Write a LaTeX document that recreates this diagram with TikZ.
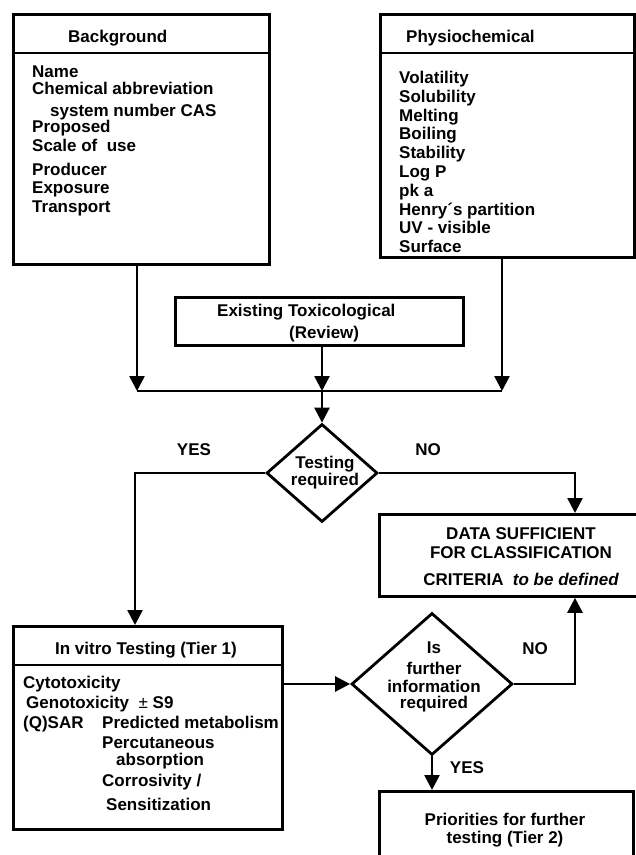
\documentclass[tikz,border=0pt]{standalone}
\usepackage{fontspec}
\setmainfont{Liberation Sans}
\usetikzlibrary{shapes.geometric,arrows.meta}

\tikzset{
  box/.style={draw, rectangle, line width=2.8pt, anchor=north west, inner sep=0pt},
  cond/.style={draw, diamond, line width=2.8pt, inner sep=0pt},
  txt/.style={inner sep=0pt, font=\fontsize{17}{18.8}\selectfont\bfseries},
  link/.style={line width=2.6pt},
  arr/.style={line width=2.6pt, -{Triangle[width=15pt,length=15pt]}},
}

\begin{document}
\begin{tikzpicture}[x=1pt,y=-1pt]
  \useasboundingbox (0,0) rectangle (636,855);
  \clip (0,0) rectangle (636,855);

  \node[box, minimum width=256pt, minimum height=250pt] (bg) at (12,13) {};
  \node[box, minimum width=254pt, minimum height=243pt] (ph) at (379,13) {};
  \node[box, minimum width=288pt, minimum height=48pt] (ex) at (174,296) {};
  \node[box, minimum width=290pt, minimum height=82pt] (ds) at (378,513) {};
  \node[box, minimum width=269pt, minimum height=203pt] (vt) at (12,625) {};
  \node[box, minimum width=254pt, minimum height=100pt] (pr) at (378,790) {};
  \node[cond, minimum width=111pt, minimum height=98pt] (t1) at (322,473) {};
  \node[cond, minimum width=161pt, minimum height=142pt] (t2) at (432,684) {};

  \draw[link] ([yshift=-40pt]bg.north west) -- ([yshift=-40pt]bg.north east);
  \draw[link] ([yshift=-40pt]ph.north west) -- ([yshift=-40pt]ph.north east);
  \draw[link] ([yshift=-40pt]vt.north west) -- ([yshift=-40pt]vt.north east);

  \node[txt, anchor=base west] (bgh) at (68,42) {Background};
  \node[txt, anchor=north west, align=left] (bgl) at (32,66)
    {Name\\[-1.8pt] Chemical abbreviation\\[3.2pt] \hspace*{18pt}system number CAS\\[-2.8pt]
     Proposed\\[0.2pt] Scale of \ use\\[5.2pt] Producer\\[-0.8pt] Exposure\\[0.2pt] Transport};
  \node[txt, anchor=base west] (phh) at (406,42) {Physiochemical};
  \node[txt, anchor=north west, align=left] (phl) at (399,71)
    {Volatility\\ Solubility\\ Melting\\ Boiling\\ Stability\\ Log P\\ pk a\\
     Henry´s partition\\ UV - visible\\ Surface};
  \node[txt, anchor=north west, align=left] (ext) at (217,304)
    {Existing Toxicological\\[3.2pt] \hspace*{72pt}(Review)};
  \node[txt, anchor=north, align=center] (t1t) at (325,456) {Testing\\[-1.8pt] required};
  \node[txt, anchor=north, align=center] (dst) at (521,527)
    {DATA SUFFICIENT\\[0.2pt] FOR CLASSIFICATION\\[9pt] CRITERIA \ {\itshape to be defined}};
  \node[txt, anchor=base] (vth) at (146,654) {In vitro Testing (Tier 1)};
  \node[txt, anchor=north west, align=left] (vtl) at (23,676)
    {Cytotoxicity\\[1.2pt] \hspace*{3pt}Genotoxicity \ {\mdseries ±} S9\\[1.2pt]
     \makebox[79pt][l]{(Q)SAR}Predicted metabolism\\[1.2pt]
     \hspace*{79pt}Percutaneous\\[-2.2pt] \hspace*{93pt}absorption\\[2.6pt]
     \hspace*{79pt}Corrosivity /\\[5.2pt] \hspace*{83pt}Sensitization};
  \node[txt, anchor=north, align=center] (t2t) at (434,642)
    {Is\\[2.2pt] further\\[-0.8pt] information\\[-2.8pt] required};
  \node[txt, anchor=north, align=center] (prt) at (505,813)
    {Priorities for further\\[-0.8pt] testing (Tier 2)};

  \node[txt, anchor=base] (yes1) at (194,455) {YES};
  \node[txt, anchor=base] (no1) at (428,455) {NO};
  \node[txt, anchor=base] (no2) at (535,654) {NO};
  \node[txt, anchor=base] (yes2) at (467,773) {YES};

  \coordinate (mL) at (137,391);
  \coordinate (mC) at (322,391);
  \coordinate (mR) at (502,391);
  \coordinate (yx) at (135,473);
  \coordinate (nx) at (575,473);

  \draw[arr] (bg.south -| mL) -- (mL);
  \draw[arr] (ph.south -| mR) -- (mR);
  \draw[arr] (ex.south -| mC) -- (mC);
  \draw[link] (mL) -- (mR);
  \draw[arr] (mC) -- (t1.north);
  \draw[arr] (t1.west) -- (yx) -- (vt.north -| yx);
  \draw[arr] (t1.east) -- (nx) -- (ds.north -| nx);
  \draw[arr] (vt.east |- t2.west) -- (t2.west);
  \draw[arr] (t2.east) -| (ds.south -| nx);
  \draw[arr] (t2.south) -- (pr.north -| t2.south);
\end{tikzpicture}
\end{document}
